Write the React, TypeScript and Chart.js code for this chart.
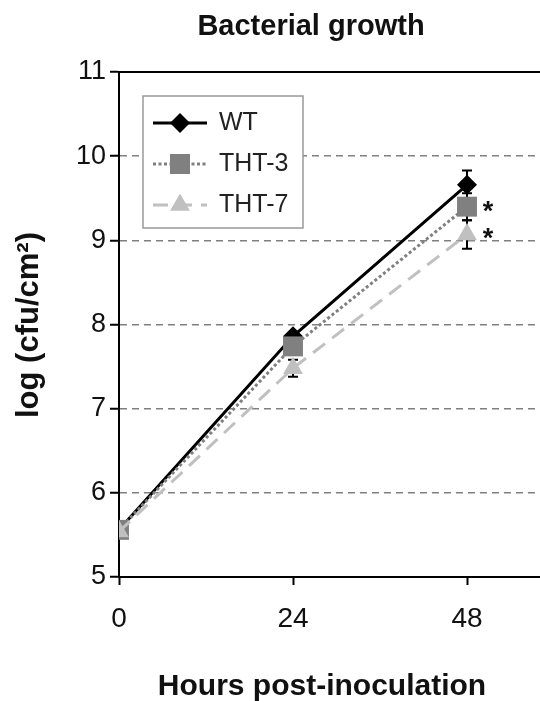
import React, { useEffect, useRef } from 'react';
import { Chart, registerables } from 'chart.js';

Chart.register(...registerables);

// ---- data ----
const HOURS = [0, 24, 48];
const X_TICKS = [0, 24, 48];
const Y_TICKS = [5, 6, 7, 8, 9, 10, 11];
const SERIES_NAMES = ['WT', 'THT-3', 'THT-7'];
const WT = [5.56, 7.86, 9.66];
const THT3 = [5.56, 7.74, 9.4];
const THT7 = [5.54, 7.48, 9.07];
const WT_ERR = [0, 0.05, 0.17];
const THT3_ERR = [0, 0.05, 0.16];
const THT7_ERR = [0, 0.1, 0.17];
const THT3_SIG = [false, false, true];
const THT7_SIG = [false, false, true];
const TITLE = 'Bacterial growth';
const X_TITLE = 'Hours post-inoculation';
const Y_TITLE = 'log (cfu/cm²)';

const FONT = "'Liberation Sans', Arial, sans-serif";
const COLORS = ['#000000', '#808080', '#c0c0c0'];
const DASHES: number[][] = [[], [3, 2.5], [15, 9]];
const SHAPES = ['rectRot', 'rect', 'triangle'];
const RADII = [10, 14.1, 11.5];

function drawShape(ctx: CanvasRenderingContext2D, shape: string, x: number, y: number, color: string) {
  ctx.save();
  ctx.fillStyle = color;
  ctx.beginPath();
  if (shape === 'rectRot') {
    ctx.moveTo(x - 10, y);
    ctx.lineTo(x, y - 10);
    ctx.lineTo(x + 10, y);
    ctx.lineTo(x, y + 10);
  } else if (shape === 'rect') {
    ctx.rect(x - 10, y - 10, 20, 20);
  } else {
    const r = 11.5;
    ctx.moveTo(x, y - r);
    ctx.lineTo(x + r * 0.866, y + r / 2);
    ctx.lineTo(x - r * 0.866, y + r / 2);
  }
  ctx.closePath();
  ctx.fill();
  ctx.restore();
}

const decorPlugin = {
  id: 'decor',
  beforeDatasetsDraw(chart: any) {
    const ctx: CanvasRenderingContext2D = chart.ctx;
    const xs = chart.scales.x;
    const ys = chart.scales.y;
    const vals = [WT, THT3, THT7];
    const errs = [WT_ERR, THT3_ERR, THT7_ERR];
    ctx.save();
    ctx.strokeStyle = '#000';
    ctx.lineWidth = 2;
    vals.forEach((arr, i) => {
      arr.forEach((v, j) => {
        const e = errs[i][j];
        if (!e) return;
        const x = xs.getPixelForValue(HOURS[j]);
        const y1 = ys.getPixelForValue(v + e);
        const y2 = ys.getPixelForValue(v - e);
        ctx.beginPath();
        ctx.moveTo(x, y1);
        ctx.lineTo(x, y2);
        ctx.moveTo(x - 5, y1);
        ctx.lineTo(x + 5, y1);
        ctx.moveTo(x - 5, y2);
        ctx.lineTo(x + 5, y2);
        ctx.stroke();
      });
    });
    ctx.restore();
  },
  afterDatasetsDraw(chart: any) {
    const ctx: CanvasRenderingContext2D = chart.ctx;
    const { left, right, top } = chart.chartArea;
    const xs = chart.scales.x;
    const ys = chart.scales.y;
    // top frame line
    ctx.save();
    ctx.strokeStyle = '#000';
    ctx.lineWidth = 2;
    ctx.beginPath();
    ctx.moveTo(left - 1, top);
    ctx.lineTo(right, top);
    ctx.stroke();
    ctx.restore();

    // significance asterisks
    ctx.save();
    ctx.fillStyle = '#111';
    ctx.font = `bold 27px ${FONT}`;
    ctx.textAlign = 'center';
    ctx.textBaseline = 'alphabetic';
    [
      [THT3, THT3_SIG],
      [THT7, THT7_SIG],
    ].forEach(([arr, sig]: any) => {
      arr.forEach((v: number, j: number) => {
        if (!sig[j]) return;
        const x = xs.getPixelForValue(HOURS[j]) + 21;
        const y = ys.getPixelForValue(v) + 13;
        ctx.fillText('*', x, y);
      });
    });
    ctx.restore();

    // legend
    const bx = 143, by = 96, bw = 160, bh = 132;
    ctx.save();
    ctx.fillStyle = '#fff';
    ctx.fillRect(bx, by, bw, bh);
    ctx.strokeStyle = '#999';
    ctx.lineWidth = 1.5;
    ctx.strokeRect(bx, by, bw, bh);
    const rows = [123, 164, 205];
    SERIES_NAMES.forEach((name, i) => {
      const y = rows[i];
      ctx.save();
      ctx.strokeStyle = COLORS[i];
      ctx.lineWidth = 3;
      ctx.setLineDash(DASHES[i]);
      ctx.beginPath();
      ctx.moveTo(153, y);
      ctx.lineTo(207, y);
      ctx.stroke();
      ctx.restore();
      drawShape(ctx, SHAPES[i], 180, y, COLORS[i]);
      ctx.fillStyle = '#222';
      ctx.font = `25px ${FONT}`;
      ctx.textAlign = 'left';
      ctx.textBaseline = 'middle';
      ctx.fillText(name, 219, y);
    });
    ctx.restore();
  },
  afterDraw(chart: any) {
    const ctx: CanvasRenderingContext2D = chart.ctx;
    ctx.save();
    ctx.fillStyle = '#111';
    ctx.textAlign = 'center';
    ctx.textBaseline = 'alphabetic';
    ctx.font = `bold 29px ${FONT}`;
    ctx.fillText(TITLE, 311, 35);
    ctx.font = `bold 30px ${FONT}`;
    ctx.fillText(X_TITLE, 322, 695);
    ctx.translate(38, 325);
    ctx.rotate(-Math.PI / 2);
    ctx.font = `bold 31px ${FONT}`;
    ctx.fillText(Y_TITLE, 0, 0);
    ctx.restore();
  },
};

export default function App() {
  const ref = useRef<HTMLCanvasElement>(null);
  useEffect(() => {
    if (!ref.current) return;
    const mk = (arr: number[]) => arr.map((v, i) => ({ x: HOURS[i], y: v }));
    const series = [WT, THT3, THT7];
    const chart = new Chart(ref.current, {
      type: 'line',
      data: {
        datasets: series.map((arr, i) => ({
          label: SERIES_NAMES[i],
          data: mk(arr),
          borderColor: COLORS[i],
          backgroundColor: COLORS[i],
          borderWidth: 3,
          borderDash: DASHES[i],
          borderCapStyle: 'butt',
          pointStyle: SHAPES[i] as any,
          pointRadius: RADII[i],
          pointHoverRadius: RADII[i],
          pointBorderWidth: 0,
          pointBackgroundColor: COLORS[i],
          pointBorderColor: COLORS[i],
          fill: false,
          tension: 0,
          order: 3 - i,
        })),
      },
      options: {
        animation: false,
        responsive: false,
        events: [],
        layout: { padding: { top: 72, right: 66, left: 0, bottom: 0 } },
        plugins: {
          legend: { display: false },
          title: { display: false },
          tooltip: { enabled: false },
        },
        scales: {
          x: {
            type: 'linear',
            min: 0,
            max: 60,
            afterBuildTicks: (s: any) => {
              s.ticks = X_TICKS.map((v) => ({ value: v }));
            },
            afterFit: (s: any) => {
              s.height = 124;
            },
            grid: {
              drawOnChartArea: false,
              drawTicks: true,
              tickLength: 8,
              tickColor: '#000',
              tickWidth: 2,
            },
            border: { color: '#000', width: 2 },
            ticks: {
              font: { family: FONT, size: 28 },
              color: '#111',
              padding: 17,
              maxRotation: 0,
              autoSkip: false,
            },
          },
          y: {
            type: 'linear',
            min: 5,
            max: 11,
            afterBuildTicks: (s: any) => {
              s.ticks = Y_TICKS.map((v) => ({ value: v }));
            },
            afterFit: (s: any) => {
              s.width = 119;
            },
            grid: {
              color: (c: any) =>
                c.tick && c.tick.value > 5 && c.tick.value < 11 ? '#808080' : 'rgba(0,0,0,0)',
              lineWidth: 1.5,
              drawTicks: true,
              tickLength: 9,
              tickColor: '#000',
              tickWidth: 2,
              tickBorderDash: [],
            },
            border: { color: '#000', width: 2, dash: [7, 5] },
            ticks: {
              font: { family: FONT, size: 27 },
              color: '#111',
              padding: 4,
              autoSkip: false,
            },
          },
        },
      },
      plugins: [decorPlugin],
    } as any);
    return () => chart.destroy();
  }, []);

  return (
    <div
      style={{
        position: 'fixed',
        left: 0,
        top: 0,
        width: 540,
        height: 701,
        overflow: 'hidden',
        background: '#fff',
      }}
    >
      <canvas ref={ref} width={620} height={701} style={{ display: 'block' }} />
    </div>
  );
}
